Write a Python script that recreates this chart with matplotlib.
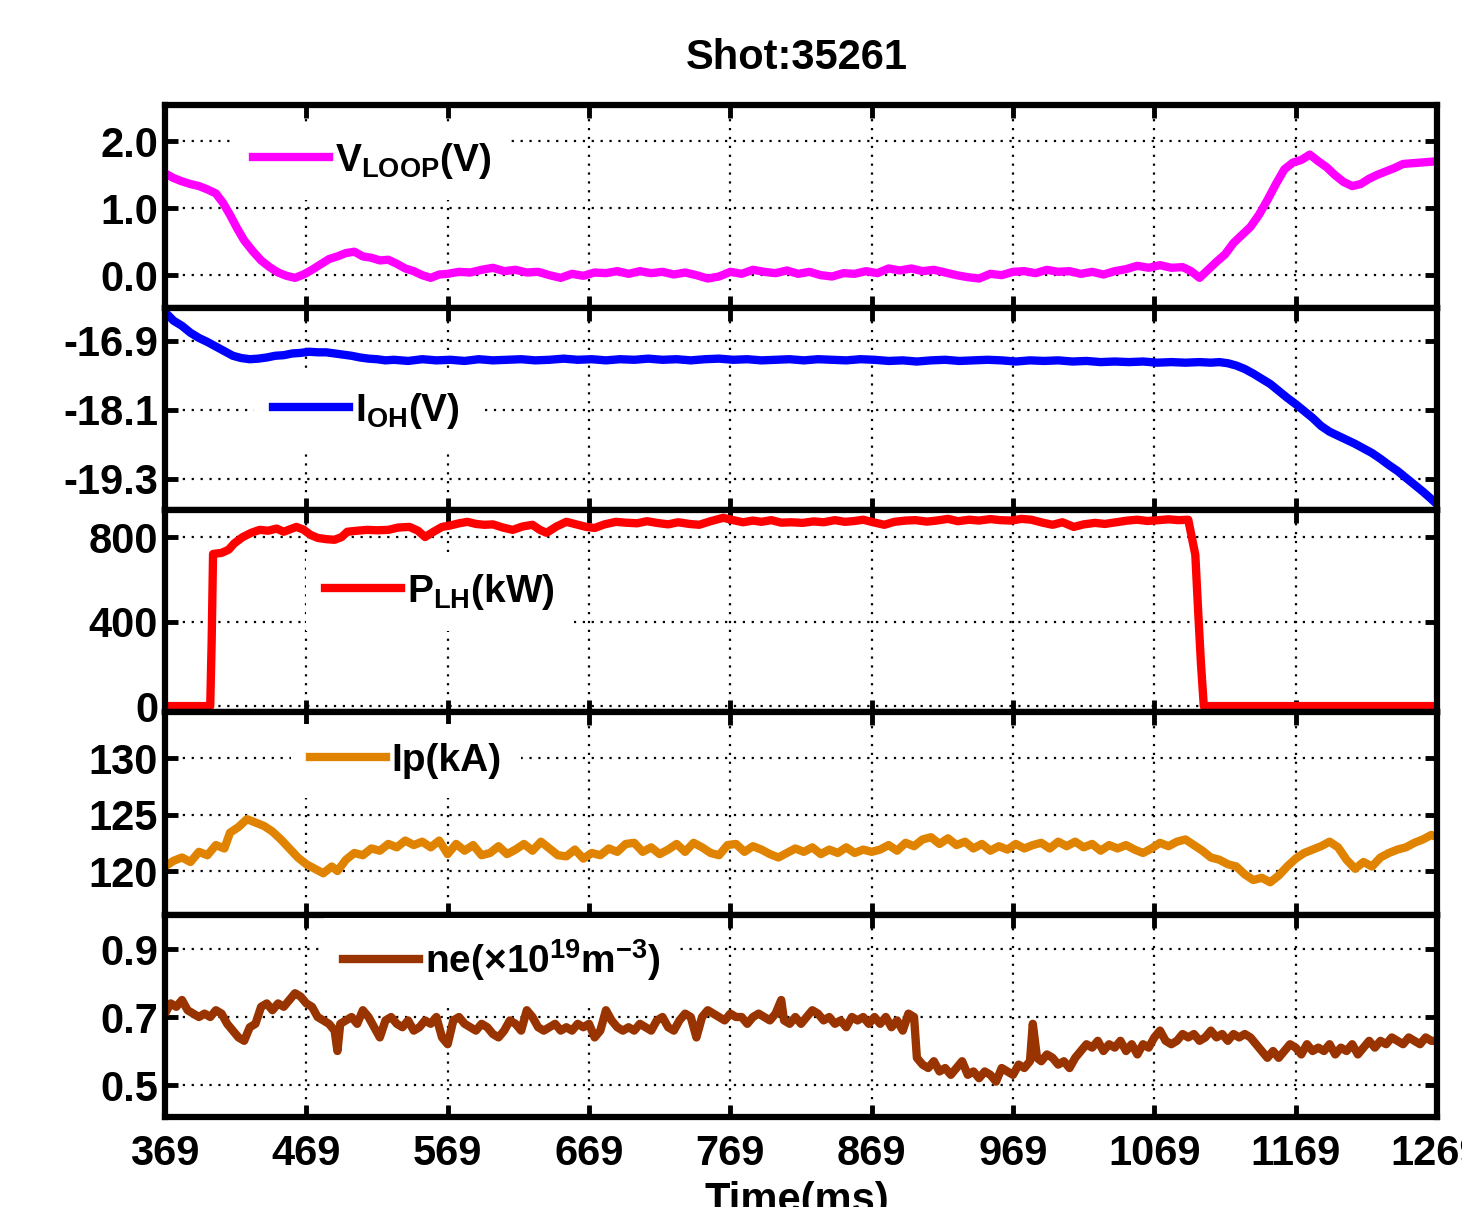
import matplotlib
matplotlib.use("Agg")
import matplotlib.pyplot as plt

plt.rcParams['font.family'] = ['Liberation Sans Narrow', 'Liberation Sans', 'DejaVu Sans']
plt.rcParams['mathtext.fontset'] = 'custom'
plt.rcParams['mathtext.rm'] = 'Liberation Sans'
plt.rcParams['mathtext.bf'] = 'Liberation Sans:bold'

# ---- data (time in ms) ----
t_vloop = [369, 375, 381, 387, 393, 399, 405, 410, 415, 420, 425, 431, 437, 443, 449, 455, 461, 467,
           473, 479, 485, 491, 497, 503, 509, 515, 521, 527, 533, 539, 545, 551, 557, 563, 569, 577,
           585, 593, 601, 609, 617, 625, 633, 641, 649, 657, 665, 673, 681, 689, 697, 705, 713, 721,
           729, 737, 745, 753, 761, 769, 777, 785, 793, 801, 809, 817, 825, 833, 841, 849, 857, 865,
           873, 881, 889, 897, 905, 913, 921, 929, 937, 945, 953, 961, 969, 977, 985, 993, 1001, 1009,
           1017, 1025, 1033, 1041, 1049, 1057, 1065, 1073, 1081, 1089, 1095, 1101, 1107, 1113, 1119,
           1125, 1131, 1137, 1143, 1149, 1155, 1161, 1167, 1173, 1179, 1185, 1191, 1197, 1203, 1209,
           1215, 1221, 1227, 1233, 1239, 1245, 1251, 1257, 1263, 1269]
vloop = [1.52, 1.45, 1.40, 1.36, 1.33, 1.28, 1.22, 1.08, 0.90, 0.70, 0.52, 0.36, 0.22, 0.12, 0.04, -0.01,
         -0.04, 0.01, 0.08, 0.16, 0.24, 0.28, 0.33, 0.35, 0.28, 0.26, 0.22, 0.23, 0.17, 0.10, 0.06, 0.00,
         -0.04, 0.01, 0.02, 0.05, 0.04, 0.08, 0.11, 0.06, 0.08, 0.04, 0.05, 0.00, -0.04, 0.02, -0.01, 0.04,
         0.03, 0.06, 0.02, 0.06, 0.03, 0.05, 0.01, 0.04, 0.00, -0.05, -0.02, 0.05, 0.02, 0.08, 0.05, 0.03,
         0.07, 0.02, 0.05, 0.00, -0.02, 0.03, 0.02, 0.06, 0.03, 0.10, 0.07, 0.10, 0.06, 0.08, 0.04, 0.00,
         -0.03, -0.05, 0.02, 0.00, 0.05, 0.06, 0.03, 0.08, 0.05, 0.06, 0.02, 0.05, 0.01, 0.06, 0.09, 0.14,
         0.11, 0.15, 0.11, 0.12, 0.06, -0.04, 0.08, 0.20, 0.31, 0.48, 0.60, 0.72, 0.90, 1.12, 1.36, 1.58,
         1.68, 1.72, 1.80, 1.70, 1.61, 1.49, 1.39, 1.33, 1.36, 1.44, 1.50, 1.55, 1.60, 1.66, 1.67, 1.68,
         1.69, 1.70]

t_ioh = [369, 375, 381, 387, 393, 399, 405, 411, 417, 423, 429, 435, 441, 447, 453, 459, 465, 471, 477,
         483, 489, 495, 501, 507, 513, 519, 525, 531, 541, 551, 561, 571, 581, 591, 601, 611, 621, 631,
         641, 651, 661, 671, 681, 691, 701, 711, 721, 731, 741, 751, 761, 771, 781, 791, 801, 811, 821,
         831, 841, 851, 861, 871, 881, 891, 901, 911, 921, 931, 941, 951, 961, 971, 981, 991, 1001, 1011,
         1021, 1031, 1041, 1051, 1061, 1071, 1081, 1091, 1101, 1109, 1115, 1121, 1127, 1133, 1139, 1145,
         1151, 1157, 1163, 1169, 1175, 1181, 1187, 1193, 1199, 1205, 1211, 1217, 1223, 1229, 1235, 1241,
         1247, 1253, 1259, 1265, 1269]
ioh = [-16.40, -16.55, -16.64, -16.76, -16.85, -16.92, -17.00, -17.08, -17.16, -17.20, -17.22, -17.21,
       -17.19, -17.16, -17.15, -17.12, -17.11, -17.09, -17.10, -17.10, -17.12, -17.14, -17.16, -17.19,
       -17.21, -17.22, -17.24, -17.23, -17.25, -17.22, -17.24, -17.23, -17.25, -17.22, -17.24, -17.23,
       -17.22, -17.24, -17.23, -17.21, -17.23, -17.22, -17.24, -17.22, -17.23, -17.21, -17.23, -17.22,
       -17.24, -17.22, -17.21, -17.23, -17.22, -17.24, -17.23, -17.22, -17.24, -17.22, -17.23, -17.24,
       -17.22, -17.23, -17.25, -17.24, -17.26, -17.24, -17.23, -17.25, -17.24, -17.23, -17.24, -17.26,
       -17.24, -17.25, -17.24, -17.26, -17.25, -17.27, -17.26, -17.27, -17.26, -17.28, -17.27, -17.28,
       -17.27, -17.28, -17.27, -17.29, -17.33, -17.39, -17.47, -17.56, -17.65, -17.77, -17.89, -18.00,
       -18.12, -18.24, -18.38, -18.48, -18.55, -18.62, -18.69, -18.77, -18.85, -18.95, -19.06, -19.16,
       -19.28, -19.40, -19.52, -19.65, -19.74]

t_plh = [369, 401, 402, 403, 409, 414, 418, 424, 430, 436, 442, 448, 453, 458, 462, 467, 472, 477, 483,
         489, 494, 498, 505, 512, 519, 527, 534, 542, 548, 553, 559, 565, 571, 577, 583, 589, 595, 601,
         608, 615, 622, 629, 634, 639, 646, 653, 660, 667, 673, 680, 688, 695, 703, 710, 717, 725, 732,
         740, 747, 755, 764, 771, 778, 785, 791, 798, 805, 812, 820, 828, 835, 843, 850, 857, 863, 870,
         878, 885, 893, 900, 908, 915, 923, 930, 938, 945, 953, 960, 968, 975, 982, 990, 997, 1004, 1012,
         1019, 1027, 1034, 1042, 1050, 1057, 1064, 1072, 1079, 1086, 1093, 1098, 1100, 1102, 1104, 1269]
plh = [0, 0, 300, 720, 725, 740, 770, 800, 820, 834, 830, 840, 825, 838, 848, 835, 810, 796, 790, 787,
       800, 825, 830, 834, 832, 834, 845, 848, 830, 800, 825, 848, 855, 865, 872, 862, 858, 860, 845, 834,
       850, 858, 835, 820, 850, 872, 860, 848, 843, 860, 872, 868, 865, 875, 867, 860, 870, 862, 858, 875,
       891, 880, 870, 878, 872, 880, 868, 870, 867, 874, 870, 880, 872, 876, 882, 870, 858, 872, 878, 880,
       873, 878, 886, 875, 882, 878, 885, 880, 878, 886, 882, 868, 858, 870, 848, 860, 867, 862, 870, 878,
       882, 876, 880, 884, 880, 882, 716, 450, 200, 0, 0]

t_ip = [369, 375, 381, 387, 393, 399, 405, 411, 415, 421, 427, 433, 439, 445, 451, 457, 463, 469, 475,
        481, 487, 491, 497, 503, 509, 515, 521, 527, 533, 539, 545, 551, 557, 563, 569, 575, 581, 587,
        593, 599, 605, 611, 617, 623, 629, 635, 641, 647, 653, 659, 665, 671, 677, 683, 689, 695, 701,
        707, 713, 719, 725, 731, 737, 743, 749, 755, 761, 767, 773, 779, 785, 791, 797, 803, 809, 815,
        821, 827, 833, 839, 845, 851, 857, 863, 869, 875, 881, 887, 893, 899, 905, 911, 917, 923, 929,
        935, 941, 947, 953, 959, 965, 971, 977, 983, 989, 995, 1001, 1007, 1013, 1019, 1025, 1031, 1037,
        1043, 1049, 1055, 1061, 1067, 1073, 1079, 1085, 1091, 1097, 1103, 1109, 1115, 1121, 1127, 1133,
        1139, 1145, 1151, 1157, 1163, 1169, 1175, 1181, 1187, 1193, 1199, 1205, 1211, 1217, 1223, 1229,
        1235, 1241, 1247, 1253, 1259, 1265, 1269]
ip = [120.4, 120.9, 121.2, 120.8, 121.7, 121.4, 122.3, 122.0, 123.4, 123.9, 124.6, 124.3, 124.0, 123.5,
      122.8, 122.0, 121.2, 120.6, 120.2, 119.8, 120.4, 120.0, 121.0, 121.6, 121.4, 122.0, 121.8, 122.4,
      122.1, 122.7, 122.3, 122.6, 122.1, 122.7, 121.5, 122.4, 121.8, 122.3, 121.4, 121.6, 122.2, 121.5,
      121.9, 122.4, 121.8, 122.6, 122.0, 121.4, 121.3, 121.9, 121.1, 121.6, 121.4, 122.0, 121.7, 122.4,
      122.5, 121.7, 122.1, 121.5, 121.9, 122.4, 121.7, 122.5, 122.1, 121.6, 121.4, 122.3, 122.4, 121.7,
      122.2, 121.9, 121.5, 121.2, 121.6, 122.0, 121.7, 122.1, 121.5, 121.9, 121.6, 122.1, 121.6, 121.9,
      121.7, 121.9, 122.3, 121.8, 122.5, 122.2, 122.8, 123.0, 122.4, 122.9, 122.3, 122.6, 122.0, 122.4,
      121.8, 122.2, 121.9, 122.4, 122.0, 122.3, 122.5, 122.0, 122.6, 122.2, 122.6, 122.1, 122.4, 121.8,
      122.3, 122.0, 122.3, 121.9, 121.6, 122.0, 122.5, 122.2, 122.6, 122.8, 122.3, 121.8, 121.2, 121.0,
      120.6, 120.4, 119.7, 119.2, 119.4, 119.0, 119.6, 120.4, 121.1, 121.6, 121.9, 122.2, 122.6, 122.1,
      121.0, 120.2, 120.8, 120.4, 121.2, 121.6, 121.9, 122.1, 122.5, 122.8, 123.2, 123.0]

t_ne = [369, 373, 377, 381, 385, 389, 393, 397, 401, 405, 409, 413, 417, 421, 425, 429, 433, 437, 441,
        445, 449, 453, 457, 461, 465, 469, 473, 477, 481, 485, 489, 491, 493, 497, 501, 505, 509, 513,
        517, 521, 525, 529, 533, 537, 541, 545, 549, 553, 557, 561, 565, 569, 573, 577, 581, 585, 589,
        593, 597, 601, 605, 609, 613, 617, 621, 625, 629, 633, 637, 641, 645, 649, 653, 657, 661, 665,
        669, 673, 677, 681, 685, 689, 693, 697, 701, 705, 709, 713, 717, 721, 725, 729, 733, 737, 741,
        745, 749, 753, 757, 761, 765, 769, 773, 777, 781, 785, 789, 793, 797, 801, 805, 807, 811, 815,
        819, 823, 827, 831, 835, 839, 843, 847, 851, 855, 859, 863, 867, 871, 875, 879, 883, 887, 891,
        895, 899, 901, 905, 909, 913, 917, 921, 925, 929, 933, 937, 941, 945, 949, 953, 957, 961, 965,
        969, 973, 977, 981, 983, 986, 989, 993, 997, 1001, 1005, 1009, 1013, 1017, 1021, 1025, 1029,
        1033, 1037, 1041, 1045, 1049, 1053, 1057, 1061, 1065, 1069, 1073, 1077, 1081, 1085, 1089, 1093,
        1097, 1101, 1105, 1109, 1113, 1117, 1121, 1125, 1129, 1133, 1137, 1141, 1145, 1149, 1153, 1157,
        1161, 1165, 1169, 1173, 1177, 1181, 1185, 1189, 1193, 1197, 1201, 1205, 1209, 1213, 1217, 1221,
        1225, 1229, 1233, 1237, 1241, 1245, 1249, 1253, 1257, 1261, 1265, 1269]
ne = [0.71, 0.74, 0.73, 0.75, 0.72, 0.71, 0.70, 0.71, 0.70, 0.72, 0.71, 0.68, 0.66, 0.64, 0.63, 0.67,
      0.68, 0.73, 0.74, 0.72, 0.74, 0.73, 0.75, 0.77, 0.76, 0.74, 0.73, 0.70, 0.69, 0.68, 0.66, 0.60,
      0.68, 0.69, 0.70, 0.68, 0.72, 0.70, 0.67, 0.64, 0.69, 0.70, 0.68, 0.67, 0.69, 0.66, 0.67, 0.69,
      0.68, 0.70, 0.64, 0.62, 0.69, 0.70, 0.68, 0.67, 0.66, 0.68, 0.67, 0.65, 0.64, 0.66, 0.69, 0.68,
      0.66, 0.72, 0.70, 0.67, 0.66, 0.67, 0.68, 0.66, 0.67, 0.66, 0.68, 0.67, 0.68, 0.64, 0.66, 0.72,
      0.69, 0.67, 0.66, 0.67, 0.66, 0.68, 0.67, 0.66, 0.69, 0.70, 0.67, 0.66, 0.69, 0.71, 0.70, 0.64,
      0.70, 0.72, 0.71, 0.70, 0.69, 0.71, 0.70, 0.70, 0.68, 0.70, 0.71, 0.70, 0.69, 0.71, 0.75, 0.69,
      0.68, 0.70, 0.68, 0.70, 0.72, 0.71, 0.69, 0.70, 0.68, 0.69, 0.67, 0.70, 0.69, 0.70, 0.68, 0.70,
      0.68, 0.70, 0.67, 0.69, 0.66, 0.71, 0.70, 0.58, 0.56, 0.55, 0.57, 0.54, 0.55, 0.53, 0.55, 0.57,
      0.53, 0.54, 0.52, 0.54, 0.53, 0.51, 0.55, 0.54, 0.53, 0.56, 0.55, 0.57, 0.68, 0.58, 0.57, 0.59,
      0.58, 0.56, 0.57, 0.55, 0.58, 0.60, 0.62, 0.61, 0.63, 0.60, 0.62, 0.61, 0.63, 0.60, 0.62, 0.59,
      0.62, 0.61, 0.64, 0.66, 0.63, 0.62, 0.63, 0.65, 0.64, 0.65, 0.63, 0.64, 0.66, 0.64, 0.65, 0.63,
      0.65, 0.64, 0.65, 0.64, 0.62, 0.60, 0.58, 0.60, 0.58, 0.60, 0.62, 0.61, 0.59, 0.62, 0.60, 0.61,
      0.60, 0.62, 0.59, 0.61, 0.60, 0.62, 0.59, 0.61, 0.63, 0.61, 0.63, 0.62, 0.64, 0.63, 0.62, 0.64,
      0.63, 0.62, 0.64, 0.63, 0.63]

x_ticks = [369, 469, 569, 669, 769, 869, 969, 1069, 1169, 1269]

panels = [
    (t_vloop, vloop, '#ff00ff', r'V$_\mathbf{LOOP}$(V)', (-0.49, 2.54), [0, 1, 2], ['0.0', '1.0', '2.0'], (253, 161)),
    (t_ioh, ioh, '#0000ff', r'I$_\mathbf{OH}$(V)', (-19.84, -16.33), [-19.3, -18.1, -16.9], ['-19.3', '-18.1', '-16.9'], (273, 411)),
    (t_plh, plh, '#ff0000', r'P$_\mathbf{LH}$(kW)', (-28, 928), [0, 400, 800], ['0', '400', '800'], (325, 592)),
    (t_ip, ip, '#e08300', 'Ip(kA)', (116.1, 134.1), [120, 125, 130], ['120', '125', '130'], (310, 761)),
    (t_ne, ne, '#993300', r'ne(×10$^\mathbf{19}$m$^\mathbf{-3}$)', (0.406, 1.0), [0.5, 0.7, 0.9], ['0.5', '0.7', '0.9'], (343, 960)),
]

W, H = 1462, 1207
fig = plt.figure(figsize=(W / 100, H / 100), dpi=100)
edges = [105, 308, 510, 712, 915, 1117]
ax_left, ax_right = 165, 1437
fs = 28      # legend text
tfs = 30     # tick labels, title, x label

for i, (t, y, col, lab, ylim, yt, ytl, (lx, ly)) in enumerate(panels):
    top, bot = edges[i], edges[i + 1]
    ax = fig.add_axes([ax_left / W, 1 - bot / H, (ax_right - ax_left) / W, (bot - top) / H])
    ax.plot(t, y, color=col, lw=6, label=lab)
    ax.set_xlim(369, 1269)
    ax.set_ylim(*ylim)
    ax.set_xticks(x_ticks)
    ax.set_yticks(yt)
    ax.set_yticklabels(ytl)
    ax.grid(True, color='black', linestyle=(0, (1, 3)), lw=1.6)
    for s in ax.spines.values():
        s.set_linewidth(4.5)
    ax.tick_params(direction='in', length=9, width=3.5, top=True, right=True,
                   labelsize=tfs, pad=5)
    for lbl in ax.get_yticklabels() + ax.get_xticklabels():
        lbl.set_fontweight('bold')
    if i < 4:
        ax.tick_params(labelbottom=False)
    else:
        ax.tick_params(axis='x', pad=12)
    # legend with white box, placed where the reference has it
    bp = 0.5
    bx = (lx - ax_left - bp * fs * 100 / 72) / (ax_right - ax_left)
    by = (bot - ly) / (bot - top)
    ax.legend(loc='center left', bbox_to_anchor=(bx, by), frameon=True, framealpha=1,
              edgecolor='none', facecolor='white', fancybox=False, borderpad=bp,
              borderaxespad=0, handlelength=1.95, handletextpad=0.15,
              prop={'size': fs, 'weight': 'bold'})

fig.text(797 / W, 1 - 58 / H, 'Shot:35261', ha='center', va='center', fontsize=tfs, fontweight='bold')
fig.text(797 / W, 1 - 1181 / H, 'Time(ms)', ha='center', va='top', fontsize=tfs, fontweight='bold')

fig.savefig('out.png', dpi=100)
